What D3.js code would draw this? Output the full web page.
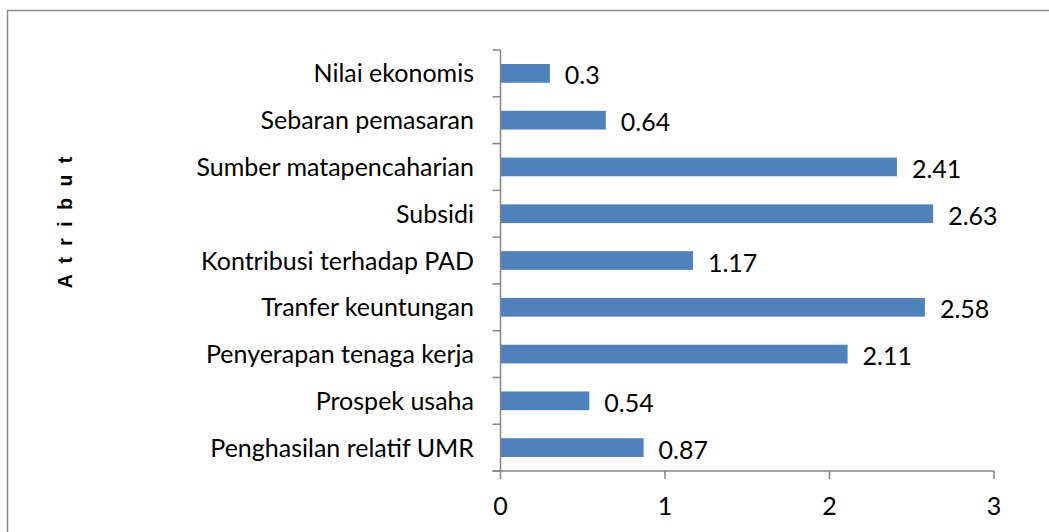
<!DOCTYPE html>
<html><head><meta charset="utf-8">
<script src="https://cdn.jsdelivr.net/npm/d3@7"></script>
<style>body{margin:0;background:#fff}svg{display:block}</style>
</head><body>
<svg id="c" width="1049" height="532"></svg>
<script>
const categories = ["Nilai ekonomis","Sebaran pemasaran","Sumber matapencaharian","Subsidi","Kontribusi terhadap PAD","Tranfer keuntungan","Penyerapan tenaga kerja","Prospek usaha","Penghasilan relatif UMR"];
const values = [0.3,0.64,2.41,2.63,1.17,2.58,2.11,0.54,0.87];
const xTicks = [0,1,2,3];
const yTitle = "A t r i b u t";

const svg = d3.select("#c");
const font = "Lato, 'Open Sans', sans-serif";
const fs = 25;
svg.append("rect").attr("x",7.5).attr("y",10.5).attr("width",1100).attr("height",600)
  .attr("fill","none").attr("stroke","#8a8a8a").attr("stroke-width",1.5);

const x0=500.5, x1=994, yTop=50, yBot=471;
const x = d3.scaleLinear().domain([0,3]).range([x0,x1]);
const y = d3.scaleBand().domain(categories).range([yTop,yBot]).paddingInner(0.6).paddingOuter(0.3);
const yTicksScale = d3.scaleLinear().domain([0,categories.length]).range([yTop,yBot]);
const axisColor="#868686";

svg.selectAll(".bar").data(values).join("rect")
  .attr("x",x(0)).attr("y",(d,i)=>y(categories[i]))
  .attr("width",d=>x(d)-x(0)).attr("height",y.bandwidth())
  .attr("fill","#4f81bd");

svg.selectAll(".val").data(values).join("text")
  .attr("x",d=>x(d)+15).attr("y",(d,i)=>y(categories[i])+y.bandwidth()/2+2)
  .attr("dy","0.36em").attr("font-family",font).attr("font-size",fs).attr("fill","#000")
  .text(d=>String(d));

const g = svg.append("g").attr("stroke",axisColor).attr("stroke-width",1.5);
g.append("line").attr("x1",x0).attr("x2",x0).attr("y1",yTop).attr("y2",yBot);
d3.range(categories.length+1).forEach(i=>{
  g.append("line").attr("x1",x0-8).attr("x2",x0).attr("y1",yTicksScale(i)).attr("y2",yTicksScale(i));
});
g.append("line").attr("x1",x0-8).attr("x2",x1).attr("y1",yBot).attr("y2",yBot);
xTicks.forEach(t=>{
  g.append("line").attr("x1",x(t)).attr("x2",x(t)).attr("y1",yBot).attr("y2",yBot+8);
});
svg.selectAll(".xt").data(xTicks).join("text")
  .attr("x",d=>x(d)).attr("y",506).attr("dy","0.36em").attr("text-anchor","middle")
  .attr("font-family",font).attr("font-size",fs).text(d=>d);

svg.selectAll(".cat").data(categories).join("text")
  .attr("x",474).attr("y",d=>y(d)+y.bandwidth()/2).attr("dy","0.36em")
  .attr("text-anchor","end").attr("font-family",font).attr("font-size",fs).text(d=>d);

svg.append("text").attr("transform","translate(72,221) rotate(-90)")
  .attr("text-anchor","middle").attr("font-family","'Liberation Sans', Arial, sans-serif")
  .attr("font-weight","bold").attr("font-size",19.5).attr("letter-spacing","3px").text(yTitle);
</script>
</body></html>
